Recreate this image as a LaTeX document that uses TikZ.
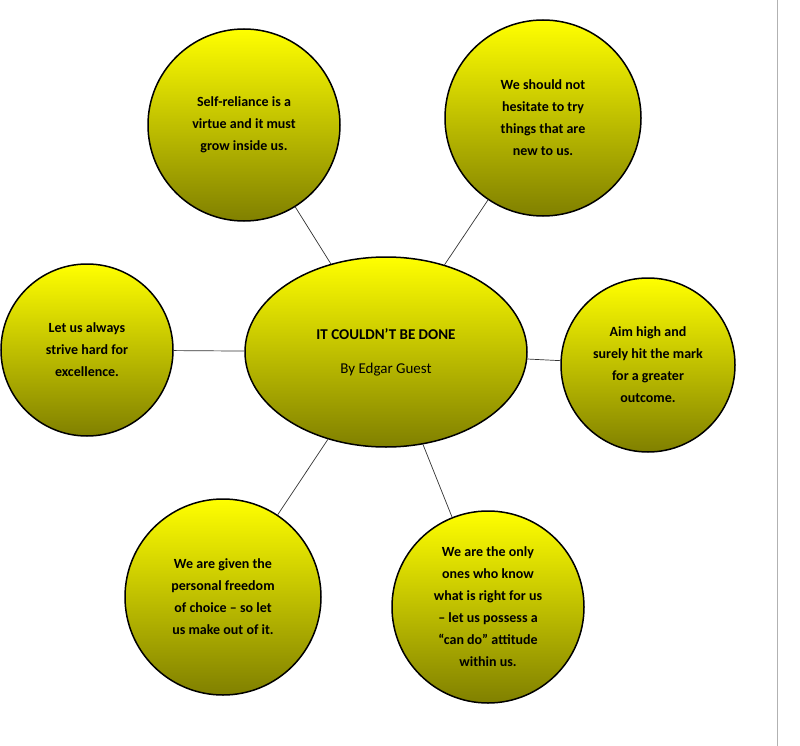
\documentclass[tikz,border=0pt]{standalone}
\usepackage{fontspec}
\setmainfont{Carlito}
\usetikzlibrary{shapes.geometric}
\definecolor{olive2}{RGB}{128,128,0}
\tikzset{
  bub/.style={circle,draw=black,line width=1.5pt,top color=yellow,bottom color=olive2,
    align=center,font=\bfseries\fontsize{14}{22}\selectfont,inner sep=0pt},
  conn/.style={draw=black!80,line width=0.7pt}
}
\begin{document}
\begin{tikzpicture}[x=1pt,y=-1pt]
\useasboundingbox (0,0) rectangle (800,746);
\fill[white] (0,0) rectangle (800,746);
\draw[gray!60,line width=1pt] (777,0) -- (777,746);
\node[ellipse,draw=black,line width=1.5pt,top color=yellow,bottom color=olive2,minimum width=282pt,minimum height=190pt,align=center,font=\fontsize{15}{34}\selectfont] (c) at (386,352) {\textbf{IT COULDN’T BE DONE}\\By Edgar Guest};
\node[bub,minimum size=192pt] (tl) at (244,125) {Self-reliance is a\\virtue and it must\\grow inside us.};
\node[bub,minimum size=196pt] (tr) at (543,118) {We should not\\hesitate to try\\things that are\\new to us.};
\node[bub,minimum size=172pt] (l) at (87,350) {Let us always\\strive hard for\\excellence.};
\node[bub,minimum size=174pt] (r) at (648,365) {Aim high and\\surely hit the mark\\for a greater\\outcome.};
\node[bub,minimum size=196pt] (bl) at (223,597) {We are given the\\personal freedom\\of choice -- so let\\us make out of it.};
\node[bub,minimum size=192pt] (br) at (488,607) {We are the only\\ones who know\\what is right for us\\-- let us possess a\\“can do” attitude\\within us.};
\draw[conn] (tl) -- (c);
\draw[conn] (tr) -- (c);
\draw[conn] (l) -- (c);
\draw[conn] (r) -- (c);
\draw[conn] (bl) -- (c);
\draw[conn] (br) -- (c);
\end{tikzpicture}
\end{document}
